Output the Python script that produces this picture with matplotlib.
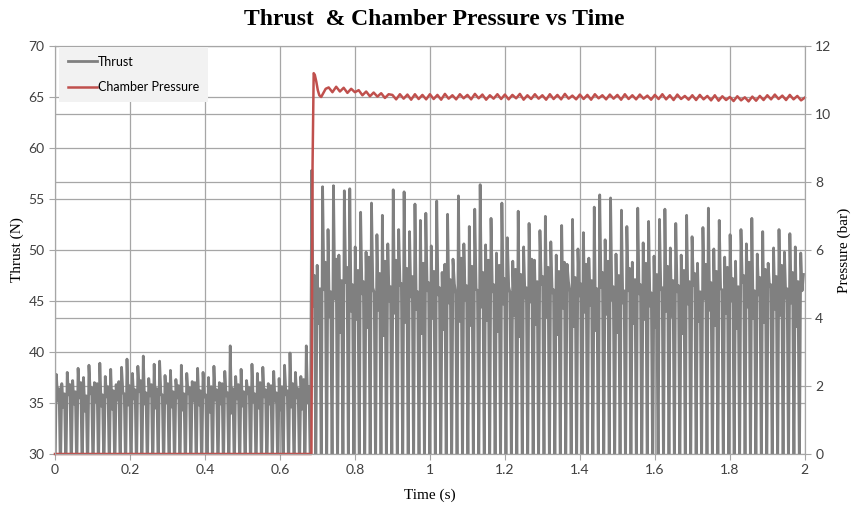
import numpy as np
import matplotlib.pyplot as plt

# thrust: drop / peak / mid / shoulder samples per pulsing cycle (138 cycles over 2 s)
n_cycles = 138
drop_level = 28.0
peaks = [
    # before ignition
    37.8, 36.9, 38.0, 37.2, 38.4, 37.5, 38.7, 37.0, 38.9, 37.6, 38.3, 36.8, 38.5, 39.3,
    37.9, 38.6, 39.6, 37.4, 38.8, 39.1, 37.7,
    38.2, 37.3, 38.7, 37.9, 37.1, 38.4, 38.0, 37.5, 38.6, 37.0, 38.1,
    40.6,
    37.6, 38.3, 37.2, 38.8, 37.9, 38.5, 36.9, 38.1, 37.4, 38.7,
    39.9, 38.0, 37.6, 40.6,
    # after ignition
    57.8, 48.5, 56.2, 52.0, 56.3, 49.5, 55.8, 56.0,
    50.3, 53.7, 49.8, 54.6, 51.5, 53.4, 50.6,
    55.9, 52.0, 55.7, 51.8, 54.5, 52.9, 53.6, 50.4,
    54.8, 47.8, 53.5, 49.1, 55.3, 50.6,
    52.3, 54.0, 56.4, 50.5,
    53.1, 49.7, 54.6, 51.2, 48.9, 53.8, 50.3, 52.6, 49.0, 51.9,
    53.3, 50.8, 49.5, 52.4, 48.6, 53.0, 50.1, 51.7, 49.2, 54.2,
    55.4, 51.0, 55.1, 49.6, 53.9, 52.3, 48.8, 54.1, 50.7, 52.8,
    49.4, 53.0, 54.0, 50.2, 52.6, 49.5, 53.4, 51.3, 48.7, 52.2,
    54.1, 50.1, 52.9, 49.3, 51.5, 48.9, 52.0, 50.6, 53.1, 49.6,
    51.8, 48.7, 50.2, 52.0, 49.8, 51.6, 50.3, 49.7,
]
mids = [
    35.2, 34.6, 35.8, 34.9, 35.5, 34.2, 35.9, 35.1, 34.7, 35.6, 34.4, 35.3, 36.0, 34.8,
    35.4, 36.1, 34.9, 35.7, 34.5, 35.8, 35.0,
    34.6, 35.5, 34.3, 35.9, 35.2, 34.8, 35.6, 34.1, 35.3, 34.9, 35.7,
    34.0,
    35.4, 34.7, 35.9, 35.1, 34.5, 35.6, 34.9, 35.2, 34.3, 35.8,
    34.6, 35.5, 34.4, 35.0,
    44.5, 42.8, 46.1, 43.5, 45.2, 41.9, 46.8, 44.0,
    43.2, 45.7, 42.4, 46.3, 44.1, 41.6, 45.0,
    43.8, 46.5, 42.9, 45.4, 44.2, 41.8, 46.0, 43.3,
    45.6, 42.2, 44.8, 46.7, 43.0, 45.1,
    42.6, 46.2, 44.4, 43.1,
    45.9, 42.0, 44.7, 46.4, 43.6, 41.5, 45.3, 44.9, 42.7, 46.6,
    43.4, 45.8, 41.7, 44.3, 46.9, 42.5, 45.5, 43.9, 44.6, 42.1,
    46.3, 43.7, 45.1, 41.9, 44.8, 46.0, 42.8, 45.7, 43.2, 44.5,
    42.4, 46.1, 44.0, 43.5, 45.9, 41.8, 44.7, 46.5, 43.0, 45.2,
    44.1, 42.6, 46.2, 43.8, 45.0, 42.3, 46.8, 44.4, 43.3, 45.6,
    42.9, 46.4, 44.2, 43.6, 45.3, 44.8, 42.5, 46.0,
]
shoulders = [
    36.4, 35.9, 36.8, 36.1, 37.0, 35.7, 36.5, 36.9, 35.8, 36.6, 36.2, 37.1, 35.9, 36.7,
    36.3, 37.2, 36.0, 36.8, 36.4, 35.8, 36.9,
    36.1, 36.7, 35.9, 36.5, 37.0, 36.2, 35.8, 36.6, 36.3, 36.9, 36.0,
    36.4,
    36.8, 36.1, 36.5, 35.9, 37.0, 36.3, 36.7, 36.0, 36.6, 36.2,
    36.9, 36.4, 37.3, 36.6,
    47.5, 46.2, 48.8, 45.9, 49.1, 47.0, 48.3, 46.6,
    48.0, 46.9, 49.3, 45.8, 47.7, 48.9, 46.4,
    49.0, 46.7, 48.2, 47.4, 45.9, 48.7, 46.8, 47.9,
    46.3, 48.6, 47.1, 45.7, 49.2, 46.5,
    48.4, 46.0, 47.8, 49.0,
    46.6, 48.5, 47.2, 45.8, 48.1, 47.6, 46.3, 49.1, 46.9, 47.4,
    48.3, 46.1, 47.9, 48.8, 45.9, 47.3, 46.7, 48.6, 47.0, 46.2,
    47.8, 48.9, 46.4, 47.5, 46.0, 48.2, 47.1, 46.6, 48.7, 45.8,
    47.6, 46.3, 48.4, 47.0, 46.5, 48.0, 46.9, 47.7, 45.9, 48.6,
    46.8, 47.9, 46.1, 48.3, 47.2, 46.4, 47.5, 48.8, 46.0, 47.3,
    48.1, 46.6, 47.4, 48.5, 46.2, 47.8, 46.9, 47.6,
]

# chamber pressure (bar)
p_time_start = [0.0, 0.684, 0.687, 0.690, 0.693, 0.697, 0.701, 0.705, 0.710, 0.716, 0.722]
p_start = [0.0, 0.0, 8.5, 11.2, 11.15, 10.95, 10.7, 10.55, 10.5, 10.62, 10.74]
p_steady = [
    10.78, 10.64, 10.80, 10.66, 10.77, 10.62, 10.74,
    10.64, 10.70, 10.55, 10.66, 10.52, 10.63, 10.51, 10.61, 10.47, 10.58,
    10.56, 10.43, 10.58, 10.45, 10.57, 10.42, 10.58, 10.44, 10.56, 10.43,
    10.58, 10.44, 10.56, 10.42, 10.59, 10.45, 10.55, 10.43, 10.58, 10.46,
    10.56, 10.43, 10.59, 10.46, 10.57, 10.42, 10.55, 10.45, 10.58, 10.44,
    10.57, 10.43, 10.56, 10.46, 10.59, 10.42, 10.55, 10.44, 10.58, 10.45,
    10.55, 10.42, 10.58, 10.44, 10.56, 10.43, 10.59, 10.45, 10.54, 10.43,
    10.57, 10.44, 10.56, 10.42, 10.58, 10.46, 10.55, 10.43, 10.57, 10.45,
    10.56, 10.42, 10.58, 10.44, 10.55, 10.43, 10.57, 10.45, 10.54, 10.42,
    10.56, 10.44, 10.58, 10.43, 10.55, 10.41, 10.57, 10.44, 10.53, 10.42,
    10.55, 10.41, 10.56, 10.43, 10.53, 10.40, 10.55, 10.39, 10.52, 10.41,
    10.50, 10.38, 10.52, 10.40, 10.49, 10.37, 10.51, 10.39, 10.53, 10.41,
    10.55, 10.43, 10.57, 10.44, 10.54, 10.41, 10.56, 10.43, 10.53, 10.40,
    10.48,
]

x_ticks = [0, 0.2, 0.4, 0.6, 0.8, 1, 1.2, 1.4, 1.6, 1.8, 2]
x_labels = ['0', '0.2', '0.4', '0.6', '0.8', '1', '1.2', '1.4', '1.6', '1.8', '2']
thrust_ticks = [30, 35, 40, 45, 50, 55, 60, 65, 70]
pressure_ticks = [0, 2, 4, 6, 8, 10, 12]

# assemble series
period = 2.0 / n_cycles
thrust = np.column_stack([np.full(n_cycles, drop_level), peaks, mids, shoulders]).ravel()
t = np.arange(len(thrust)) * period / 4
p_time = np.concatenate([p_time_start, 0.73 + 0.01 * np.arange(len(p_steady))])
pressure = np.concatenate([p_start, p_steady])

tick_font = 'Lato'
grid_col = '#a6a6a6'
text_col = '#404040'

fig = plt.figure(figsize=(8.54, 5.05), dpi=100)
ax = fig.add_axes([0.0644, 0.101, 0.878, 0.808])
ax2 = ax.twinx()

ax.plot(t, thrust, color='#808080', lw=2.0, label='Thrust')
ax2.plot(p_time, pressure, color='#c0504d', lw=1.8, label='Chamber Pressure', clip_on=False)

ax.set_xlim(0, 2)
ax.set_ylim(30, 70)
ax2.set_ylim(0, 12)
ax.set_xticks(x_ticks)
ax.set_xticklabels(x_labels)
ax.set_yticks(thrust_ticks)
ax2.set_yticks(pressure_ticks)

# right-axis gridlines drawn on the left axes so they stay behind the data
ax.set_yticks([30 + p * 40 / 12 for p in pressure_ticks], minor=True)
ax.grid(True, which='major', color=grid_col, lw=0.9)
ax.grid(True, which='minor', axis='y', color=grid_col, lw=0.9)
ax.set_axisbelow(True)
ax.tick_params(which='minor', length=0)

for a in (ax, ax2):
    for s in a.spines.values():
        s.set_color(grid_col)
    a.tick_params(which='major', length=4, color=grid_col, labelsize=10, labelcolor=text_col)
    for lab in a.get_xticklabels() + a.get_yticklabels():
        lab.set_fontfamily(tick_font)

ax.set_xlabel('Time (s)', family='Liberation Serif', fontsize=11, labelpad=9)
ax.set_ylabel('Thrust (N)', family='Liberation Serif', fontsize=11, labelpad=3)
ax2.set_ylabel('Pressure (bar)', family='Liberation Serif', fontsize=11, labelpad=4)

fig.text(0.508, 0.962, 'Thrust  & Chamber Pressure vs Time', ha='center', va='center',
         family='Liberation Serif', fontweight='bold', fontsize=17)

h1, l1 = ax.get_legend_handles_labels()
h2, l2 = ax2.get_legend_handles_labels()
leg = ax2.legend(h1 + h2, l1 + l2, loc='upper left', bbox_to_anchor=(0.006, 0.998),
                 borderaxespad=0, frameon=True, fancybox=False, facecolor='#f2f2f2',
                 edgecolor='none', framealpha=1, prop={'family': tick_font, 'size': 9},
                 handlelength=2.3, handletextpad=0.1, labelspacing=1.1, borderpad=0.7)

fig.savefig('out.png', dpi=100)
